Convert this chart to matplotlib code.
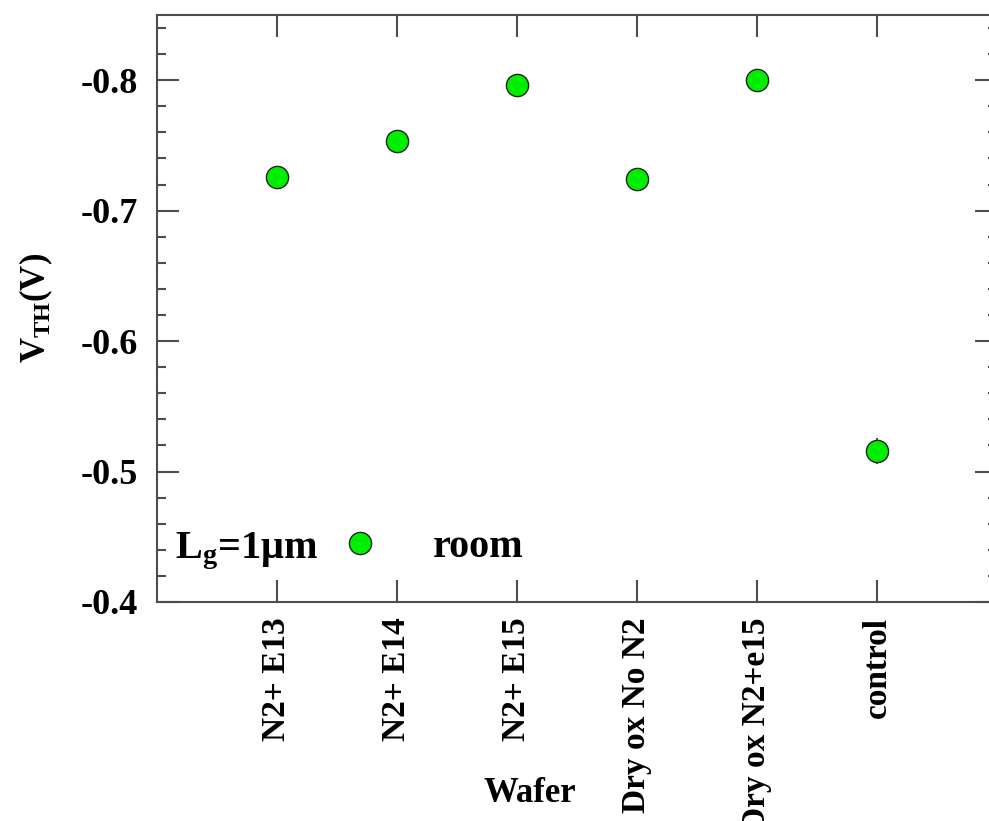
import matplotlib
matplotlib.use("Agg")
import matplotlib.pyplot as plt
import numpy as np

# threshold voltage per wafer split
wafers = ['N2+ E13', 'N2+ E14', 'N2+ E15', 'Dry ox No N2', 'Dry ox N2+e15', 'control']
vth = [-0.726, -0.753, -0.796, -0.724, -0.800, -0.516]
vth_err = [0.0, 0.0, 0.0, 0.0, 0.0, 0.010]

plt.rcParams['font.family'] = ['Liberation Serif', 'DejaVu Serif']
plt.rcParams['font.weight'] = 'bold'
plt.rcParams['axes.unicode_minus'] = False
plt.rcParams['mathtext.fontset'] = 'custom'
plt.rcParams['mathtext.rm'] = 'Liberation Serif:bold'
plt.rcParams['mathtext.it'] = 'Liberation Serif:bold'
plt.rcParams['mathtext.bf'] = 'Liberation Serif:bold'

fig = plt.figure(figsize=(9.89, 8.21), dpi=100)
ax = fig.add_axes([0.1587, 0.2668, 0.8493, 0.715])

x = np.arange(len(wafers))
ax.errorbar(x, vth, yerr=vth_err, fmt='none', ecolor='#333333', elinewidth=1.2, zorder=2)
pts, = ax.plot(x, vth, 'o', ms=16, mfc='#00ee00', mec='#222222', mew=1.0,
               linestyle='none', zorder=3, label='room')

ax.set_xlim(-1, 6)
ax.set_ylim(-0.4, -0.85)
ax.set_xticks(x)
ax.set_xticklabels(wafers, rotation=90, fontsize=24, fontweight='bold')
ax.set_yticks([-0.4, -0.5, -0.6, -0.7, -0.8])
ax.set_yticks(np.arange(-0.42, -0.85, -0.02), minor=True)
ax.set_yticklabels(['-0.4', '-0.5', '-0.6', '-0.7', '-0.8'], fontsize=26, fontweight='bold')

spine_c = '#4d4d4d'
for s in ax.spines.values():
    s.set_color(spine_c)
    s.set_linewidth(1.5)
ax.tick_params(axis='both', which='both', direction='in', colors=spine_c, labelcolor='black')
ax.tick_params(axis='x', which='major', length=16, width=1.5, top=True, pad=11)
ax.tick_params(axis='y', which='major', length=16, width=1.5, right=True, pad=14)
ax.tick_params(axis='y', which='minor', length=6.5, width=1.5, right=True)
ax.tick_params(axis='x', which='minor', bottom=False, top=False)

ax.set_ylabel('V$_{\\mathrm{TH}}$(V)', fontsize=25, fontweight='bold', labelpad=18)
fig.text(530 / 989, 1 - 793 / 821, 'Wafer', fontsize=25, fontweight='bold',
         ha='center', va='center')

ax.text(175 / 989, 1 - 558 / 821, 'L$_{\\mathrm{g}}$=1μm', transform=fig.transFigure,
        fontsize=29, fontweight='bold', ha='left', va='baseline')
ax.legend(handles=[pts], labels=['room'], loc='center left', frameon=False,
          bbox_to_anchor=(320 / 989, 1 - 547 / 821), bbox_transform=fig.transFigure,
          prop={'size': 29, 'weight': 'bold'}, handlelength=2.0, handletextpad=0.8,
          borderpad=0, borderaxespad=0, numpoints=1)

fig.savefig('out.png', dpi=100)
